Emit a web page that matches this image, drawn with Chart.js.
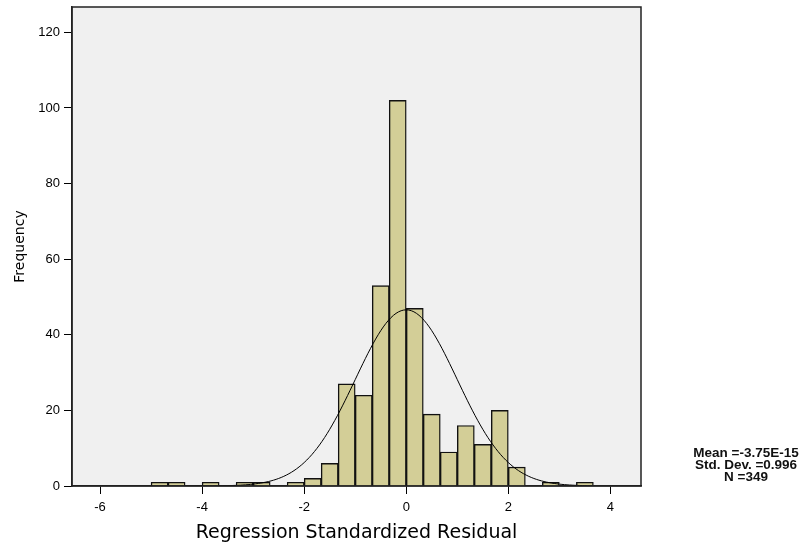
<!DOCTYPE html>
<html>
<head>
<meta charset="utf-8">
<script src="https://cdn.jsdelivr.net/npm/chart.js@4.4.1/dist/chart.umd.min.js"></script>
<style>
  html, body { margin: 0; padding: 0; background: #ffffff; }
  #wrap { width: 808px; height: 549px; }
</style>
</head>
<body>
<div id="wrap"><canvas id="hist" width="808" height="549"></canvas></div>
<script>
// Histogram of regression standardized residuals (bins one third of a unit wide)
const binCenters = [
  -4.833, -4.5, -4.167, -3.833, -3.5, -3.167, -2.833, -2.5, -2.167,
  -1.833, -1.5, -1.167, -0.833, -0.5, -0.167,
   0.167,  0.5,  0.833,  1.167,  1.5,  1.833,  2.167,  2.5,  2.833, 3.167, 3.5
];
const frequencies = [
  1, 1, 0, 1, 0, 1, 1, 0, 1,
  2, 6, 27, 24, 53, 102,
  47, 19, 9, 16, 11, 20, 5, 0, 1, 0, 1
];
const binWidth = 1 / 3;

const xTickValues = [-6, -4, -2, 0, 2, 4];
const yTickValues = [0, 20, 40, 60, 80, 100, 120];

// Summary statistics printed beside the plot; the normal curve uses them too
const residualMean = -3.75e-15;
const residualStdDev = 0.996;
const residualCount = 349;

// Normal density scaled to counts per bin, for the stated mean / sd / N
const curveFrom = -5, curveTo = 3.667, curveStep = 0.05;
const normalCurve = [];
for (let x = curveFrom; x <= curveTo + 1e-9; x += curveStep) {
  const z = (x - residualMean) / residualStdDev;
  const density = Math.exp(-0.5 * z * z) / (residualStdDev * Math.sqrt(2 * Math.PI));
  normalCurve.push({ x: x, y: residualCount * binWidth * density });
}

const statLines = [
  'Mean =' + residualMean.toExponential(2).toUpperCase(),
  'Std. Dev. =' + residualStdDev.toFixed(3),
  'N =' + residualCount
];

const plotFrame = {
  id: 'plotFrame',
  beforeDraw(chart) {
    const { ctx, chartArea: a } = chart;
    ctx.save();
    ctx.fillStyle = '#f0f0f0';
    ctx.fillRect(a.left, a.top, a.right - a.left, a.bottom - a.top);
    ctx.restore();
  },
  afterDatasetsDraw(chart) {
    const { ctx, chartArea: a } = chart;
    ctx.save();
    ctx.strokeStyle = '#222';
    ctx.lineWidth = 1.5;
    ctx.strokeRect(a.left, a.top, a.right - a.left, a.bottom - a.top);
    ctx.restore();
  }
};

const statsBox = {
  id: 'statsBox',
  afterDraw(chart) {
    const { ctx, chartArea: a } = chart;
    const cx = a.right + 105;
    ctx.save();
    ctx.fillStyle = '#111';
    ctx.font = 'bold 13.5px "Liberation Sans", Arial, sans-serif';
    ctx.textAlign = 'center';
    ctx.textBaseline = 'middle';
    statLines.forEach((t, i) => ctx.fillText(t, cx, a.bottom - 33 + i * 12));
    ctx.restore();
  }
};

const tickFont = { family: '"Liberation Sans", Arial, sans-serif', size: 13 };

new Chart(document.getElementById('hist'), {
  type: 'bar',
  data: {
    datasets: [
      {
        type: 'line',
        data: normalCurve,
        borderColor: '#000',
        borderWidth: 1,
        pointRadius: 0,
        fill: false,
        tension: 0,
        order: 0
      },
      {
        type: 'bar',
        data: binCenters.map((x, i) => ({ x: x, y: frequencies[i] })),
        backgroundColor: '#d3ce97',
        borderColor: '#111',
        borderWidth: 1.4,
        barPercentage: 1,
        categoryPercentage: 1,
        order: 1
      }
    ]
  },
  options: {
    responsive: false,
    animation: false,
    devicePixelRatio: 1,
    layout: { padding: { top: 7, right: 167, bottom: 0, left: 0 } },
    plugins: { legend: { display: false }, tooltip: { enabled: false } },
    scales: {
      x: {
        type: 'linear',
        position: 'bottom',
        offset: false,
        min: -6.55,
        max: 4.6,
        afterBuildTicks(scale) { scale.ticks = xTickValues.map(v => ({ value: v })); },
        afterFit(scale) { scale.height = 63; scale.paddingLeft = 0; scale.paddingRight = 0; },
        grid: { offset: false, drawOnChartArea: false, drawTicks: true, tickLength: 8, color: '#000', lineWidth: 1 },
        border: { display: true, color: '#222', width: 1.5 },
        ticks: { font: tickFont, color: '#000', padding: 6, maxRotation: 0, autoSkip: false },
        title: {
          display: true,
          text: 'Regression Standardized Residual',
          color: '#000',
          font: { family: '"DejaVu Sans", sans-serif', size: 19 },
          padding: { top: 0, bottom: 5 }
        }
      },
      y: {
        type: 'linear',
        min: 0,
        max: 126.7,
        afterBuildTicks(scale) { scale.ticks = yTickValues.map(v => ({ value: v })); },
        afterFit(scale) { scale.width = 72; scale.paddingTop = 0; scale.paddingBottom = 0; },
        grid: { drawOnChartArea: false, drawTicks: true, tickLength: 8, color: '#000', lineWidth: 1 },
        border: { display: true, color: '#222', width: 1.5 },
        ticks: { font: tickFont, color: '#000', padding: 4, autoSkip: false },
        title: {
          display: true,
          text: 'Frequency',
          color: '#000',
          font: { family: '"DejaVu Sans", sans-serif', size: 14 },
          padding: { top: 12, bottom: 0 }
        }
      }
    }
  },
  plugins: [plotFrame, statsBox]
});
</script>
</body>
</html>
